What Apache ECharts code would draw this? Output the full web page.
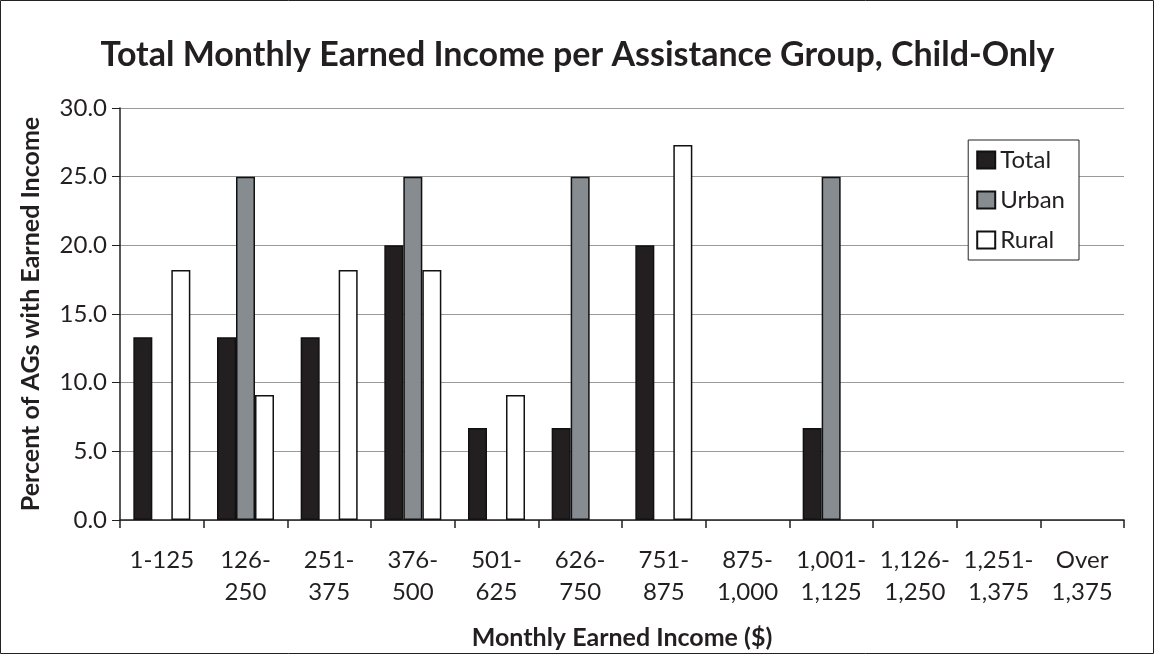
<!DOCTYPE html>
<html><head><meta charset="utf-8">
<script src="https://cdn.jsdelivr.net/npm/echarts@6/dist/echarts.min.js"></script>
<style>html,body{margin:0;padding:0;background:#fff}#c{width:1155px;height:655px}</style>
</head><body><div id="c"></div>
<script>
const categories = ['1-125','126-\n250','251-\n375','376-\n500','501-\n625','626-\n750','751-\n875','875-\n1,000','1,001-\n1,125','1,126-\n1,250','1,251-\n1,375','Over\n1,375'];
const total = [13.3,13.3,13.3,20.0,6.7,6.7,20.0,0,6.7,0,0,0];
const urban = [0,25.0,0,25.0,0,25.0,0,0,25.0,0,0,0];
const rural = [18.2,9.1,18.2,18.2,9.1,0,27.3,0,0,0,0,0];
const yTicks = {min:0,max:30,interval:5};

const font = 'Lato, "Open Sans", sans-serif';
const ink = '#231f20';
const chart = echarts.init(document.getElementById('c'));
function bar(name, data, color){
  return {name, type:'bar', data: data.map(v => v === 0 ? '-' : v), barWidth:19, barGap:'0%',
    itemStyle:{color, borderColor:'#111', borderWidth:1.5},
    emphasis:{disabled:true}};
}
chart.setOption({
  animation:false,
  textStyle:{fontFamily:font},
  graphic:[{type:'rect',shape:{x:0.5,y:0.5,width:1153,height:653},style:{fill:'none',stroke:'#222',lineWidth:1},silent:true}],
  title:{text:'Total Monthly Earned Income per Assistance Group, Child-Only',left:'center',top:33,
    textStyle:{fontFamily:font,fontSize:34,fontWeight:'bold',color:ink}},
  legend:{orient:'vertical',right:76,top:140,itemWidth:18,itemHeight:17,itemGap:16,icon:'rect',
    padding:[8,14,8,8],borderColor:'#222',borderWidth:1,backgroundColor:'#fff',
    textStyle:{fontFamily:font,fontSize:24,color:ink},
    data:['Total','Urban','Rural']},
  grid:{left:120,right:31,top:108,bottom:135,containLabel:false},
  xAxis:{type:'category',data:categories,
    name:'Monthly Earned Income ($)',nameLocation:'middle',nameGap:105,
    nameTextStyle:{fontFamily:font,fontSize:25,fontWeight:'bold',color:ink},
    axisLine:{lineStyle:{color:ink,width:1.5}},
    axisTick:{show:true,length:8,alignWithLabel:false,lineStyle:{color:ink,width:1.5}},
    axisLabel:{fontFamily:font,fontSize:24,color:ink,margin:24,lineHeight:32,interval:0}},
  yAxis:{type:'value',min:yTicks.min,max:yTicks.max,interval:yTicks.interval,
    name:'Percent of AGs with Earned Income',nameLocation:'middle',nameGap:77,nameRotate:90,
    nameTextStyle:{fontFamily:font,fontSize:25,fontWeight:'bold',color:ink},
    axisLine:{show:true,lineStyle:{color:ink,width:1.5}},
    axisTick:{show:true,length:8,lineStyle:{color:ink}},
    axisLabel:{fontFamily:font,fontSize:24,color:ink,margin:13,formatter:v=>v.toFixed(1)},
    splitLine:{lineStyle:{color:'#9a9a9a',width:1}}},
  series:[bar('Total',total,'#231f20'),bar('Urban',urban,'#878c91'),bar('Rural',rural,'#ffffff')]
});
</script></body></html>
